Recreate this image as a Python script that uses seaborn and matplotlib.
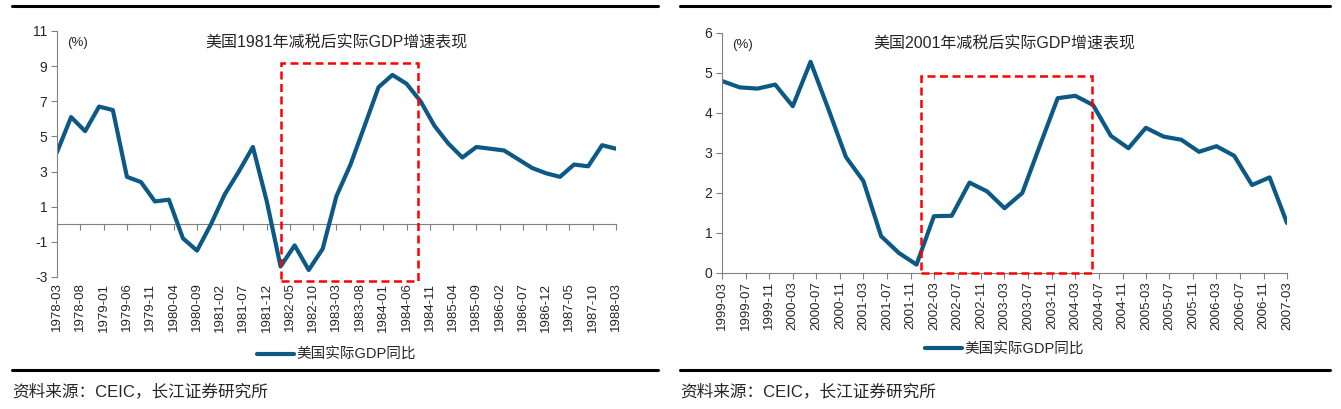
import pandas as pd
import numpy as np
import seaborn as sns
import matplotlib.pyplot as plt
import matplotlib.dates as mdates
from matplotlib.patches import Rectangle
from matplotlib.lines import Line2D

sns.set_style('white')
plt.rcParams['font.family'] = ['Liberation Sans', 'Noto Sans CJK SC', 'DejaVu Sans']
plt.rcParams['axes.unicode_minus'] = False

# 1978Q1 - 1988Q1 quarterly, real GDP yoy (%)
gdp_1981 = [4.1, 6.1, 5.3, 6.7, 6.5, 2.7, 2.4, 1.3, 1.4, -0.8,
            -1.5, 0.0, 1.7, 3.0, 4.4, 1.3, -2.4, -1.2, -2.6, -1.4,
            1.6, 3.4, 5.6, 7.8, 8.5, 8.0, 7.0, 5.6, 4.6, 3.8,
            4.4, 4.3, 4.2, 3.7, 3.2, 2.9, 2.7, 3.4, 3.3, 4.5, 4.3]
# 1999Q1 - 2007Q1
gdp_2001 = [4.8, 4.64, 4.61, 4.71, 4.17, 5.28, 4.1, 2.9, 2.3, 0.92,
            0.5, 0.21, 1.42, 1.43, 2.26, 2.04, 1.62, 2.0, 3.2, 4.37,
            4.43, 4.2, 3.43, 3.12, 3.63, 3.41, 3.33, 3.03, 3.17, 2.93,
            2.2, 2.39, 1.25]

q_1981 = pd.date_range('1978-03-01', periods=len(gdp_1981), freq='3MS')
q_2001 = pd.date_range('1999-03-01', periods=len(gdp_2001), freq='3MS')
ticks_1981 = pd.date_range('1978-03-01', '1988-03-01', freq='5MS')
ticks_2001 = pd.date_range('1999-03-01', '2007-03-01', freq='4MS')

box_1981 = ('1982-03-01', '1984-08-18', -3.2, 9.2)
box_2001 = ('2001-12-25', '2004-05-25', 0.0, 4.93)

blue = '#0d5985'
grey = '#808080'
series = '美国实际GDP同比'

fig = plt.figure(figsize=(13.41, 4.09), dpi=100)
ax1 = fig.add_axes([57 / 1341, 1 - 277 / 409, 559 / 1341, 246 / 409])
ax2 = fig.add_axes([722 / 1341, 1 - 273 / 409, 565 / 1341, 240 / 409])

df1 = pd.DataFrame({'date': q_1981, 'yoy': gdp_1981})
df2 = pd.DataFrame({'date': q_2001, 'yoy': gdp_2001})
sns.lineplot(data=df1, x='date', y='yoy', ax=ax1, color=blue, lw=3, label=series)
sns.lineplot(data=df2, x='date', y='yoy', ax=ax2, color=blue, lw=3, label=series)

for ax, ticks, ylim, yt, box, title in [
        (ax1, ticks_1981, (-3, 11), np.arange(-3, 12, 2), box_1981, '美国1981年减税后实际GDP增速表现'),
        (ax2, ticks_2001, (0, 6), np.arange(0, 7, 1), box_2001, '美国2001年减税后实际GDP增速表现')]:
    ax.set_xlim(ticks[0], ticks[-1])
    ax.set_ylim(*ylim)
    ax.set_yticks(yt)
    ax.set_xticks(ticks)
    ax.set_xticklabels([t.strftime('%Y-%m') for t in ticks], rotation=90, fontsize=9.5)
    ax.tick_params(axis='y', labelsize=10, length=4, direction='out', color=grey, left=True, pad=3)
    ax.set_xlabel('')
    ax.set_ylabel('')
    for s in ['top', 'right']:
        ax.spines[s].set_visible(False)
    ax.spines['left'].set_color(grey)
    ax.spines['bottom'].set_color(grey)
    x0, x1 = mdates.date2num(pd.Timestamp(box[0])), mdates.date2num(pd.Timestamp(box[1]))
    ax.add_patch(Rectangle((x0, box[2]), x1 - x0, box[3] - box[2], fill=False,
                           edgecolor='#ff0000', lw=1.8, ls=(0, (3.2, 1.8)), clip_on=False, zorder=5))
    ax.text(0.5, 0.985, title, transform=ax.transAxes, ha='center', va='top', fontsize=11.5)
    ax.text(0.018, 0.975, '(%)', transform=ax.transAxes, ha='left', va='top', fontsize=9.5)
    ax.legend(loc='upper center', bbox_to_anchor=(0.5, -0.235), frameon=False,
              fontsize=10.5, handlelength=2.5, handletextpad=0.2)

# left chart: axis line at zero, labels at the bottom
ax1.spines['bottom'].set_visible(False)
ax1.tick_params(axis='x', length=0, pad=4)
zero_ax = ax1.secondary_xaxis(3 / 14)
zero_ax.set_xticks(ticks_1981)
zero_ax.set_xticklabels([])
zero_ax.spines['bottom'].set_color(grey)
zero_ax.tick_params(axis='x', length=4, direction='out', color=grey)

ax2.tick_params(axis='x', length=4, direction='out', color=grey, bottom=True, pad=2)

for xa, xb in [(12, 658), (680, 1330)]:
    for y in [6, 370]:
        fig.add_artist(Line2D([xa / 1341, xb / 1341], [1 - y / 409] * 2, color='black', lw=2.2))
    fig.text(xa / 1341, 1 - 391 / 409, '资料来源：CEIC，长江证券研究所', ha='left', va='center', fontsize=12)

fig.savefig('out.png', dpi=100)
